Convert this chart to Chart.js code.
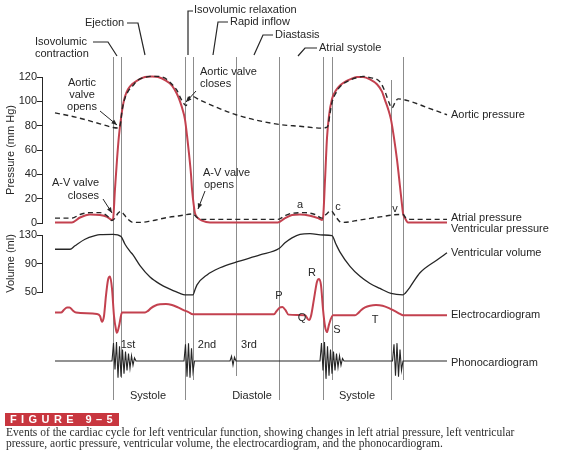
<!DOCTYPE html>
<html lang="en">
<head>
  <meta charset="UTF-8">
  <title>Events of the cardiac cycle</title>
  <script src="https://cdn.jsdelivr.net/npm/chart.js"></script>
  <style>
    html, body { margin: 0; padding: 0; background: #fff; }
    #wrap { width: 563px; height: 460px; }
  </style>
</head>
<body>
  <div id="wrap"><canvas id="cycleChart" width="563" height="460"></canvas></div>

  <script>
    // time in ms from the left end of the traces
    const ventT = [0, 68, 100, 140, 180, 208, 228, 232, 240, 248, 256, 264, 272, 280, 292, 308, 332, 360, 388, 412,
      440, 468, 488, 500, 512, 520, 528, 536, 544, 548, 556, 560, 572, 588, 620, 892, 920, 948, 980, 1020,
      1052, 1068, 1072, 1080, 1088, 1096, 1108, 1124, 1140, 1160, 1180, 1208, 1232, 1260, 1288, 1308, 1320, 1332, 1344, 1356,
      1368, 1380, 1388, 1392, 1400, 1412, 1568];
    const ventP = [0.5, 0.5, 4.5, 7, 6.5, 5, 2.5, 3, 28, 52, 72, 86, 97, 104, 110, 114, 117.5, 120, 120.5, 120,
      117.5, 113, 106, 100, 92, 85, 72, 57, 40, 28, 13, 8, 4, 2, 0.5, 0.5, 4, 6.5, 7, 6,
      4, 2.5, 4, 35, 70, 88, 102, 109, 113, 116, 118, 120, 120, 118, 114, 108, 101, 94, 85, 70,
      52, 30, 15, 8, 4, 0.5, 0.5];

    const aortT = [0, 60, 120, 180, 232, 256, 262, 268, 276, 292, 312, 332, 356, 380, 412, 440, 468, 488, 504, 516,
      524, 536, 548, 580, 724, 896, 980, 1068, 1084, 1092, 1100, 1108, 1124, 1140, 1180, 1208, 1232, 1260, 1300, 1320,
      1336, 1348, 1360, 1372, 1420, 1500, 1568];
    const aortP = [90.5, 88, 85, 81.5, 78.5, 78, 82, 92, 100, 108, 113, 117.5, 119.5, 120.5, 120.5, 119, 114, 109, 102, 98,
      96.5, 103, 104, 101, 89, 81, 79.5, 78, 78.5, 80, 90, 99, 107, 112, 117.5, 119.5, 120.5, 119.5, 116, 108,
      99, 94.5, 99, 102, 100, 94, 89];

    const atrT = [0, 68, 100, 140, 180, 208, 228, 240, 252, 264, 276, 292, 312, 340, 380, 448, 500, 552, 568, 588,
      620, 892, 920, 948, 1000, 1040, 1068, 1084, 1104, 1120, 1140, 1152, 1220, 1300, 1380, 1392, 1404, 1420, 1568];
    const atrP = [4, 4, 7, 8.5, 8.5, 6, 2, 4, 8, 9.5, 7, 3, 0.5, 0.5, 1.5, 4.5, 6, 7.5, 4.5, 3,
      3, 3, 6, 8, 8.5, 7, 4, 7, 10, 6, 1, 0.5, 2.5, 5, 7, 7, 4, 3, 3];

    const volT = [0, 60, 80, 120, 160, 180, 232, 264, 280, 300, 312, 340, 380, 420, 460, 500, 520, 552, 560, 568,
      608, 660, 724, 820, 896, 920, 948, 980, 1020, 1072, 1108, 1124, 1140, 1180, 1220, 1260, 1300, 1344, 1392, 1400,
      1420, 1460, 1528, 1568];
    const volV = [110, 110, 115, 124, 129, 130.5, 131, 128, 117, 107, 102, 87, 71, 61, 54, 48, 46, 46, 53, 60,
      74, 84, 92, 102, 111, 119, 126, 131, 132, 130, 129, 117, 106, 86, 72, 62, 55, 48, 46, 48,
      57, 77, 95, 105];

    const ecgT = [0, 24, 36, 48, 58, 70, 84, 168, 180, 188, 196, 204, 212, 220, 228, 236, 244, 248, 256, 268,
      360, 372, 384, 400, 420, 444, 468, 492, 512, 532, 552, 876, 886, 898, 910, 922, 934, 1000, 1016, 1024,
      1036, 1048, 1056, 1064, 1072, 1080, 1088, 1096, 1112, 1200, 1212, 1224, 1240, 1260, 1284, 1310, 1336, 1360, 1380, 1392,
      1568];
    const ecgV = [0, 0, 0.08, 0.15, 0.15, 0.07, 0, -0.04, -0.1, -0.27, -0.1, 0.5, 0.95, 1.05, 0.7, -0.1, -0.5, -0.59, -0.4, 0,
      0, 0.05, 0.13, 0.2, 0.24, 0.25, 0.22, 0.15, 0.08, 0.02, -0.05, -0.05, 0.04, 0.14, 0.16, 0.07, -0.06, -0.08, -0.22, -0.1,
      0.4, 0.9, 0.98, 0.8, 0.1, -0.4, -0.57, -0.35, -0.08, -0.08, -0.02, 0.07, 0.15, 0.2, 0.22, 0.2, 0.13, 0.04, -0.04, -0.08,
      -0.08];

    const pcgT = [0,
      228, 234, 240, 246, 252, 258, 264, 270, 276, 282, 288, 294, 300, 306, 312, 318, 324,
      516, 522, 528, 534, 540, 546, 552, 558,
      700, 706, 712, 718, 724,
      1060, 1066, 1072, 1078, 1084, 1090, 1096, 1102, 1108, 1114, 1120, 1126, 1132, 1138, 1144, 1150, 1156,
      1350, 1356, 1362, 1368, 1374, 1380, 1386, 1392,
      1568];
    const pcgV = [0,
      0, 0.85, -0.4, 0.9, -0.8, 0.7, -0.75, 0.55, -0.6, 0.45, -0.45, 0.35, -0.35, 0.25, -0.2, 0.15, 0,
      0, 0.8, -0.75, 0.85, -0.8, 0.6, -0.5, 0,
      0, 0.22, -0.2, 0.18, 0,
      0, 0.85, -0.45, 0.9, -0.85, 0.7, -0.7, 0.55, -0.6, 0.45, -0.45, 0.35, -0.3, 0.25, -0.2, 0.12, 0,
      0, 0.8, -0.7, 0.85, -0.75, 0.55, -0.45, 0,
      0];

    // event markers (valve openings/closings, P wave)
    const eventT = [232, 264, 520, 552, 724, 896, 1072, 1108, 1344, 1392];
    const pressureTicks = [0, 20, 40, 60, 80, 100, 120];
    const volumeTicks = [50, 90, 130];
    const seriesNames = ['Aortic pressure', 'Atrial pressure', 'Ventricular pressure',
      'Ventricular volume', 'Electrocardiogram', 'Phonocardiogram'];

    // drawing layout (pixels)
    const eventTop = [57, 57, 57, 57, 57, 57, 57, 57, 80, 57];
    const eventBottom = [400, 378, 400, 380, 376, 400, 400, 380, 400, 380];
    const RED = '#c3414f';
    const INK = '#262626';
    const AXIS_W = 42;

    Chart.defaults.font.family = '"Liberation Sans", Arial, sans-serif';
    Chart.defaults.font.size = 11;
    Chart.defaults.color = INK;

    const pts = (ts, vs) => ts.map((t, i) => ({ x: t, y: vs[i] }));

    const line = (label, data, axis, color, width, extra) => Object.assign({
      label: label,
      data: data,
      yAxisID: axis,
      borderColor: color,
      borderWidth: width,
      pointRadius: 0,
      fill: false,
      clip: false,
      cubicInterpolationMode: 'monotone'
    }, extra || {});

    const sideText = (ctx, txt, x, y, align) => {
      ctx.textAlign = align || 'left';
      ctx.fillText(txt, x, y);
    };

    const polyline = (ctx, p) => {
      ctx.beginPath();
      ctx.moveTo(p[0][0], p[0][1]);
      for (let i = 1; i < p.length; i++) ctx.lineTo(p[i][0], p[i][1]);
      ctx.stroke();
    };

    const arrow = (ctx, x1, y1, x2, y2) => {
      ctx.beginPath();
      ctx.moveTo(x1, y1);
      ctx.lineTo(x2, y2);
      ctx.stroke();
      const a = Math.atan2(y2 - y1, x2 - x1);
      ctx.beginPath();
      ctx.moveTo(x2, y2);
      ctx.lineTo(x2 - 6 * Math.cos(a - 0.4), y2 - 6 * Math.sin(a - 0.4));
      ctx.lineTo(x2 - 6 * Math.cos(a + 0.4), y2 - 6 * Math.sin(a + 0.4));
      ctx.closePath();
      ctx.fill();
    };

    const decor = {
      id: 'decor',
      beforeDraw(chart) {
        const ctx = chart.ctx;
        ctx.save();
        ctx.fillStyle = '#ffffff';
        ctx.fillRect(0, 0, chart.width, chart.height);
        ctx.restore();
      },
      beforeDatasetsDraw(chart) {
        const { ctx, scales: { x } } = chart;
        ctx.save();
        ctx.strokeStyle = '#8c8c8c';
        ctx.lineWidth = 1;
        eventT.forEach((t, i) => {
          const px = Math.round(x.getPixelForValue(t)) + 0.5;
          ctx.beginPath();
          ctx.moveTo(px, eventTop[i]);
          ctx.lineTo(px, eventBottom[i]);
          ctx.stroke();
        });
        ctx.restore();
      },
      afterDraw(chart) {
        const ctx = chart.ctx;
        ctx.save();
        ctx.fillStyle = INK;
        ctx.strokeStyle = INK;
        ctx.lineWidth = 1.2;
        ctx.textBaseline = 'middle';
        ctx.font = '11px "Liberation Sans", Arial, sans-serif';

        // phase labels with leaders
        sideText(ctx, 'Ejection', 85, 23);
        sideText(ctx, 'Isovolumic', 35, 42);
        sideText(ctx, 'contraction', 35, 54);
        sideText(ctx, 'Isovolumic relaxation', 194, 10);
        sideText(ctx, 'Rapid inflow', 230, 22);
        sideText(ctx, 'Diastasis', 275, 35);
        sideText(ctx, 'Atrial systole', 319, 48);
        polyline(ctx, [[127, 23], [138, 23], [145, 55]]);
        polyline(ctx, [[93, 42], [108, 42], [117, 56]]);
        polyline(ctx, [[193, 11], [188, 11], [188, 55]]);
        polyline(ctx, [[228, 22], [218, 22], [213, 55]]);
        polyline(ctx, [[273, 35], [263, 35], [254, 55]]);
        polyline(ctx, [[317, 48], [305, 48], [298, 56]]);

        // valve events
        sideText(ctx, 'Aortic', 82, 83, 'center');
        sideText(ctx, 'valve', 82, 95, 'center');
        sideText(ctx, 'opens', 82, 107, 'center');
        sideText(ctx, 'Aortic valve', 200, 72);
        sideText(ctx, 'closes', 200, 84);
        sideText(ctx, 'A-V valve', 203, 173);
        sideText(ctx, 'opens', 204, 185);
        sideText(ctx, 'A-V valve', 99, 183, 'right');
        sideText(ctx, 'closes', 99, 196, 'right');
        ctx.lineWidth = 1;
        arrow(ctx, 100, 111, 117, 125);
        arrow(ctx, 196, 91, 186, 102);
        arrow(ctx, 205, 191, 198, 209);
        arrow(ctx, 103, 199, 112, 213);

        // wave letters
        sideText(ctx, 'a', 300, 205, 'center');
        sideText(ctx, 'c', 338, 207, 'center');
        sideText(ctx, 'v', 395, 209, 'center');
        sideText(ctx, 'P', 279, 296, 'center');
        sideText(ctx, 'R', 312, 273, 'center');
        sideText(ctx, 'Q', 302, 318, 'center');
        sideText(ctx, 'S', 337, 330, 'center');
        sideText(ctx, 'T', 375, 320, 'center');
        sideText(ctx, '1st', 128, 345, 'center');
        sideText(ctx, '2nd', 207, 345, 'center');
        sideText(ctx, '3rd', 249, 345, 'center');
        sideText(ctx, 'Systole', 148, 396, 'center');
        sideText(ctx, 'Diastole', 252, 396, 'center');
        sideText(ctx, 'Systole', 357, 396, 'center');

        // trace names on the right
        const nameY = [115, 218, 229, 253, 315, 363];
        seriesNames.forEach((n, i) => sideText(ctx, n, 451, nameY[i]));

        // figure caption
        ctx.fillStyle = '#c8363f';
        ctx.fillRect(5, 413, 114, 13);
        ctx.fillStyle = '#ffffff';
        ctx.font = 'bold 11px "Liberation Sans", Arial, sans-serif';
        ctx.letterSpacing = '4.4px';
        sideText(ctx, 'FIGURE 9–5', 10, 419.5);
        ctx.letterSpacing = '0px';
        ctx.fillStyle = '#2e2e2e';
        ctx.font = '11.5px "Liberation Serif", "Times New Roman", serif';
        sideText(ctx, 'Events of the cardiac cycle for left ventricular function, showing changes in left atrial pressure, left ventricular', 6, 432.5);
        sideText(ctx, 'pressure, aortic pressure, ventricular volume, the electrocardiogram, and the phonocardiogram.', 6, 444);
        ctx.restore();
      }
    };

    const fixWidth = s => { s.width = AXIS_W; };
    const axisTicks = { color: INK, padding: 0, autoSkip: false, font: { size: 11 } };
    const axisGrid = { drawOnChartArea: false, drawTicks: true, tickLength: 5, color: INK, lineWidth: 1 };
    const axisBorder = { display: true, color: INK, width: 1 };
    const hiddenAxis = (weight, stackWeight, min, max) => ({
      display: false, position: 'left', stack: 'trace', weight: weight, stackWeight: stackWeight,
      min: min, max: max, afterFit: fixWidth
    });

    const ctx = document.getElementById('cycleChart').getContext('2d');
    const chart = new Chart(ctx, {
      type: 'line',
      data: {
        datasets: [
          line('Aortic pressure', pts(aortT, aortP), 'y', INK, 1.4, { borderDash: [5, 3.5] }),
          line('Atrial pressure', pts(atrT, atrP), 'y', INK, 1.4, { borderDash: [5, 3.5] }),
          line('Ventricular pressure', pts(ventT, ventP), 'y', RED, 2),
          line('Ventricular volume', pts(volT, volV), 'yVol', INK, 1.3),
          line('Electrocardiogram', pts(ecgT, ecgV), 'yEcg', RED, 2),
          line('Phonocardiogram', pts(pcgT, pcgV), 'yPcg', INK, 1.1, { tension: 0, cubicInterpolationMode: 'default' })
        ]
      },
      options: {
        responsive: false,
        animation: false,
        layout: { padding: { left: 0, right: 113, top: 57, bottom: 60 } },
        plugins: {
          legend: { display: false },
          tooltip: { enabled: false }
        },
        scales: {
          x: { type: 'linear', display: false, min: -52, max: 1580 },
          yTop: hiddenAxis(10, 20, 0, 1),
          y: {
            position: 'left', stack: 'trace', stackWeight: 146, weight: 9,
            min: 0, max: 120,
            afterBuildTicks: s => { s.ticks = pressureTicks.map(v => ({ value: v })); },
            afterFit: fixWidth,
            ticks: axisTicks, grid: axisGrid, border: axisBorder,
            title: { display: true, text: 'Pressure (mm Hg)', color: INK, font: { size: 11 }, padding: { top: 4, bottom: 0 } }
          },
          yGap: hiddenAxis(8, 12, 0, 1),
          yVol: {
            position: 'left', stack: 'trace', stackWeight: 57, weight: 7,
            min: 50, max: 130,
            afterBuildTicks: s => { s.ticks = volumeTicks.map(v => ({ value: v })); },
            afterFit: fixWidth,
            ticks: axisTicks, grid: axisGrid, border: axisBorder,
            title: { display: true, text: 'Volume (ml)', color: INK, font: { size: 11 }, padding: { top: 4, bottom: 0 } }
          },
          yEcg: hiddenAxis(6, 48, -0.8, 0.6),
          yPcg: hiddenAxis(5, 42, -1, 1),
          yBot: hiddenAxis(4, 18, 0, 1)
        }
      },
      plugins: [decor]
    });
  </script>
</body>
</html>
